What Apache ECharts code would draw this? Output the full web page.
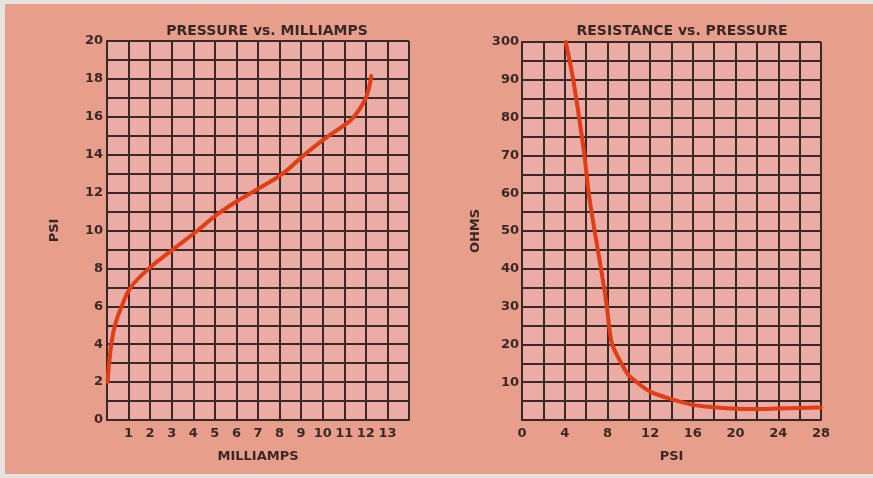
<!DOCTYPE html>
<html>
<head>
<meta charset="utf-8">
<script src="https://cdn.jsdelivr.net/npm/echarts@6/dist/echarts.min.js"></script>
<style>
  html, body { margin: 0; padding: 0; background: #e6e2e0; }
  #wrap { position: relative; width: 873px; height: 478px; overflow: hidden; }
  #paper { position: absolute; left: 5px; top: 4px; width: 868px; height: 470px; background: #e79f8b; }
  #chart { position: absolute; left: 0; top: 0; width: 873px; height: 478px; }
</style>
</head>
<body>
<div id="wrap"><div id="paper"></div><div id="chart"></div></div>
<script>
// Left chart: Pressure vs. Milliamps
const milliamps = [0.03, 0.1, 0.2, 0.37, 0.68, 1.1, 1.95, 3.0, 4.2, 5.05, 6.1, 7.15, 8.15, 9.15, 10.1, 11.05, 11.45, 12.0, 12.25];
const psiLeft   = [2.0, 3.0, 4.0, 5.0, 6.0, 7.0, 8.0, 8.95, 10.0, 10.8, 11.6, 12.3, 13.0, 14.0, 14.85, 15.6, 16.0, 17.0, 18.15];
// Right chart: Resistance vs. Pressure (top of ohms axis, 100, is labelled 300)
const psiRight  = [4.1, 4.8, 5.35, 5.85, 6.25, 6.8, 7.4, 7.95, 8.15, 8.45, 9.3, 10.0, 10.75, 12, 14, 16, 18, 20, 22, 24, 26, 28];
const ohms      = [100, 90, 80, 70, 60, 50, 40, 30, 25, 20, 15, 11.8, 10, 7.5, 5.5, 4.0, 3.35, 2.95, 2.9, 3.05, 3.2, 3.3];

const titles = ['PRESSURE vs. MILLIAMPS', 'RESISTANCE vs. PRESSURE'];
const axisNames = { leftX: 'MILLIAMPS', leftY: 'PSI', rightX: 'PSI', rightY: 'OHMS' };
const ohmsTopLabel = '300';

const ink = '#3a2826';
const curve = '#e23d15';
const font = 'DejaVu Sans';

function zip(a, b) { return a.map((v, i) => [v, b[i]]); }

const lineStyleGrid = { color: ink, width: 2 };
const labelStyle = { color: ink, fontFamily: font, fontSize: 13, fontWeight: 'bold' };
const commonAxis = {
  axisLine: { show: true, onZero: false, lineStyle: lineStyleGrid },
  axisTick: { show: false },
  splitLine: { show: true, lineStyle: lineStyleGrid },
  nameTextStyle: { color: ink, fontFamily: font, fontSize: 13, fontWeight: 'bold' },
  axisLabel: Object.assign({ showMinLabel: true, showMaxLabel: true, hideOverlap: false }, labelStyle)
};

const chart = echarts.init(document.getElementById('chart'), null, { renderer: 'canvas' });
chart.setOption({
  backgroundColor: 'transparent',
  animation: false,
  title: [
    { text: titles[0], left: 262, top: 19, textAlign: 'center',
      textStyle: { color: ink, fontFamily: font, fontSize: 14, fontWeight: 'bold' } },
    { text: titles[1], left: 677, top: 19, textAlign: 'center',
      textStyle: { color: ink, fontFamily: font, fontSize: 14, fontWeight: 'bold' } }
  ],
  grid: [
    { left: 107, top: 41, width: 302, height: 379, show: true, backgroundColor: '#eaaca4', borderWidth: 0 },
    { left: 522, top: 42, width: 299, height: 378, show: true, backgroundColor: '#eaaca4', borderWidth: 0 }
  ],
  xAxis: [
    Object.assign({}, commonAxis, {
      gridIndex: 0, type: 'value', min: 0, max: 14, interval: 1,
      name: axisNames.leftX, nameLocation: 'middle', nameGap: 30,
      axisLabel: Object.assign({}, commonAxis.axisLabel, { margin: 7,
        formatter: v => (v > 0 && v < 14) ? String(v) : '' })
    }),
    Object.assign({}, commonAxis, {
      gridIndex: 1, type: 'value', min: 0, max: 28, interval: 2,
      name: axisNames.rightX, nameLocation: 'middle', nameGap: 30,
      axisLabel: Object.assign({}, commonAxis.axisLabel, { margin: 7,
        formatter: v => (v % 4 === 0) ? String(v) : '' })
    })
  ],
  yAxis: [
    Object.assign({}, commonAxis, {
      gridIndex: 0, type: 'value', min: 0, max: 20, interval: 1,
      name: axisNames.leftY, nameLocation: 'middle', nameGap: 46,
      axisLabel: Object.assign({}, commonAxis.axisLabel, { margin: 4,
        formatter: v => (v % 2 === 0) ? String(v) : '' })
    }),
    Object.assign({}, commonAxis, {
      gridIndex: 1, type: 'value', min: 0, max: 100, interval: 5,
      name: axisNames.rightY, nameLocation: 'middle', nameGap: 40,
      axisLabel: Object.assign({}, commonAxis.axisLabel, { margin: 3,
        formatter: v => v === 100 ? ohmsTopLabel : ((v % 10 === 0 && v > 0) ? String(v) : '') })
    })
  ],
  series: [
    { type: 'line', xAxisIndex: 0, yAxisIndex: 0, data: zip(milliamps, psiLeft),
      showSymbol: false, smooth: 0.4, lineStyle: { color: curve, width: 4, cap: 'round' }, z: 5 },
    { type: 'line', xAxisIndex: 1, yAxisIndex: 1, data: zip(psiRight, ohms),
      showSymbol: false, smooth: 0.3, lineStyle: { color: curve, width: 4, cap: 'round' }, z: 5 }
  ]
});
</script>
</body>
</html>
